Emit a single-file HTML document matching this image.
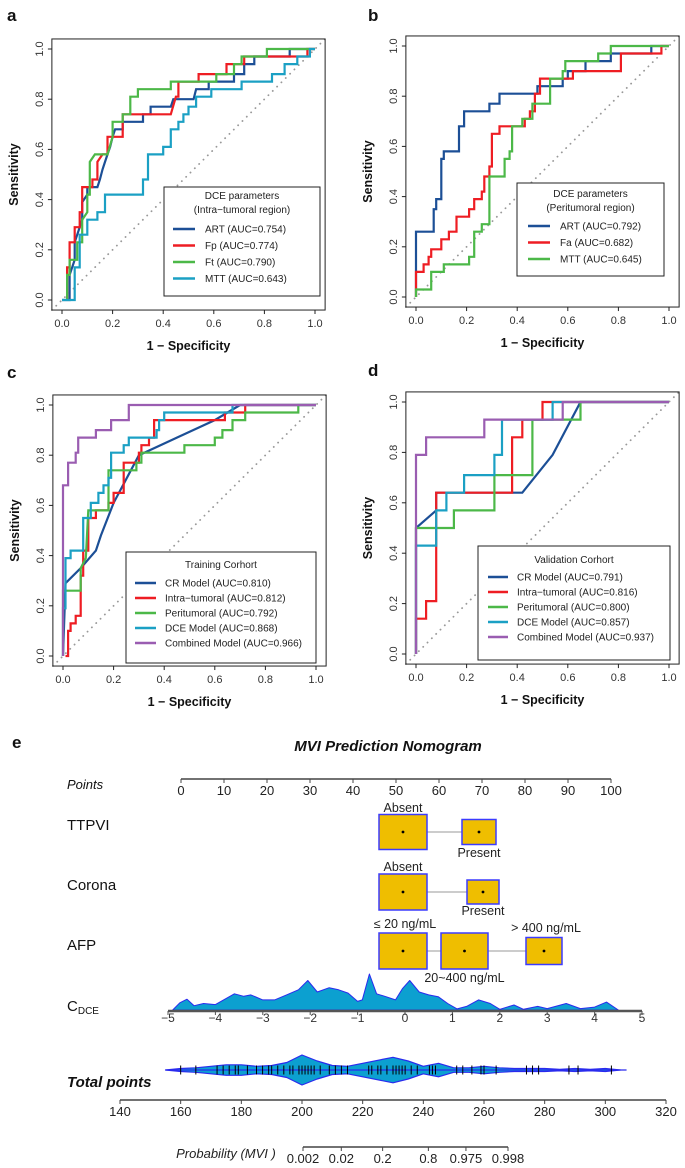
<!DOCTYPE html>
<html><head><meta charset="utf-8"><style>
html,body{margin:0;padding:0;background:#fff;overflow:hidden;}
svg{display:block;font-family:"Liberation Sans",sans-serif;}
.nm{font-family:"Liberation Sans Narrow","Liberation Sans",sans-serif;}
</style></head><body>
<svg id="fig" width="685" height="1168" viewBox="0 0 685 1168" xmlns="http://www.w3.org/2000/svg"></svg>
<script>
// ---------- ROC data ----------
const aART=[[0,0],[0.03,0],[0.03,0.1],[0.05,0.16],[0.05,0.23],[0.08,0.32],[0.08,0.39],[0.1,0.42],[0.1,0.45],[0.14,0.45],[0.15,0.48],[0.16,0.52],[0.17,0.55],[0.18,0.58],[0.19,0.61],[0.2,0.65],[0.21,0.68],[0.24,0.68],[0.24,0.71],[0.32,0.71],[0.32,0.74],[0.35,0.74],[0.35,0.77],[0.43,0.77],[0.44,0.8],[0.52,0.8],[0.53,0.84],[0.58,0.84],[0.58,0.87],[0.68,0.87],[0.68,0.9],[0.72,0.9],[0.72,0.94],[0.76,0.94],[0.76,0.97],[0.9,0.97],[0.9,1],[1,1]];
const aFp=[[0.02,0],[0.02,0.13],[0.03,0.13],[0.03,0.23],[0.05,0.23],[0.05,0.29],[0.07,0.29],[0.07,0.35],[0.08,0.35],[0.08,0.45],[0.12,0.45],[0.12,0.48],[0.14,0.48],[0.14,0.55],[0.16,0.58],[0.18,0.58],[0.18,0.65],[0.24,0.65],[0.24,0.74],[0.43,0.74],[0.45,0.81],[0.46,0.81],[0.46,0.87],[0.54,0.87],[0.54,0.9],[0.65,0.9],[0.65,0.94],[0.72,0.94],[0.72,0.97],[0.97,0.97],[0.97,1],[1,1]];
const aFt=[[0.02,0],[0.02,0.1],[0.03,0.1],[0.03,0.16],[0.06,0.16],[0.06,0.23],[0.08,0.23],[0.08,0.32],[0.1,0.35],[0.1,0.42],[0.11,0.42],[0.11,0.55],[0.13,0.58],[0.18,0.58],[0.2,0.65],[0.2,0.71],[0.24,0.71],[0.24,0.74],[0.27,0.74],[0.27,0.81],[0.3,0.81],[0.3,0.84],[0.43,0.84],[0.43,0.87],[0.61,0.87],[0.61,0.9],[0.68,0.9],[0.68,0.94],[0.71,0.94],[0.71,0.97],[0.81,0.97],[0.81,1],[1,1]];
const aMTT=[[0,0],[0.05,0],[0.05,0.13],[0.07,0.13],[0.07,0.26],[0.1,0.26],[0.1,0.32],[0.14,0.32],[0.14,0.35],[0.17,0.35],[0.17,0.42],[0.32,0.42],[0.32,0.48],[0.34,0.48],[0.34,0.58],[0.4,0.58],[0.4,0.61],[0.43,0.61],[0.43,0.68],[0.46,0.68],[0.46,0.71],[0.48,0.71],[0.48,0.74],[0.5,0.74],[0.5,0.77],[0.53,0.77],[0.53,0.81],[0.59,0.81],[0.59,0.84],[0.71,0.84],[0.71,0.87],[0.83,0.87],[0.83,0.9],[0.88,0.9],[0.88,0.94],[0.93,0.94],[0.93,0.97],[0.98,0.97],[0.98,1],[1,1]];
const bART=[[0,0],[0,0.26],[0.07,0.26],[0.07,0.35],[0.08,0.35],[0.08,0.39],[0.1,0.39],[0.1,0.55],[0.11,0.55],[0.11,0.58],[0.17,0.58],[0.17,0.68],[0.19,0.68],[0.19,0.74],[0.29,0.74],[0.29,0.77],[0.33,0.77],[0.33,0.81],[0.48,0.81],[0.48,0.84],[0.58,0.84],[0.58,0.87],[0.6,0.87],[0.6,0.9],[0.67,0.9],[0.67,0.94],[0.77,0.94],[0.77,0.97],[0.93,0.97],[0.93,1],[1,1]];
const bFa=[[0,0],[0,0.1],[0.03,0.1],[0.03,0.13],[0.05,0.13],[0.05,0.16],[0.06,0.16],[0.06,0.19],[0.1,0.19],[0.1,0.23],[0.13,0.23],[0.13,0.26],[0.16,0.26],[0.16,0.32],[0.21,0.32],[0.21,0.35],[0.23,0.35],[0.23,0.39],[0.26,0.39],[0.26,0.42],[0.27,0.42],[0.27,0.48],[0.29,0.48],[0.29,0.52],[0.3,0.52],[0.3,0.65],[0.33,0.65],[0.33,0.68],[0.43,0.68],[0.43,0.71],[0.45,0.71],[0.45,0.74],[0.47,0.74],[0.47,0.81],[0.49,0.81],[0.49,0.87],[0.62,0.87],[0.62,0.9],[0.81,0.9],[0.81,0.97],[0.97,0.97],[0.97,1],[1,1]];
const bMTT=[[0,0],[0,0.03],[0.06,0.03],[0.06,0.1],[0.11,0.1],[0.11,0.13],[0.21,0.13],[0.21,0.16],[0.23,0.16],[0.23,0.26],[0.26,0.26],[0.26,0.29],[0.29,0.29],[0.29,0.48],[0.35,0.48],[0.35,0.55],[0.37,0.55],[0.37,0.58],[0.38,0.58],[0.38,0.68],[0.42,0.68],[0.42,0.71],[0.46,0.71],[0.46,0.77],[0.53,0.77],[0.53,0.87],[0.58,0.87],[0.58,0.9],[0.59,0.9],[0.59,0.94],[0.72,0.94],[0.72,0.97],[0.77,0.97],[0.77,1],[1,1]];
const cCR=[[0,0],[0.01,0.29],[0.07,0.35],[0.13,0.42],[0.15,0.48],[0.2,0.61],[0.3,0.8],[0.45,0.87],[0.6,0.94],[0.7,1],[1,1]];
const cIntra=[[0.01,0],[0.02,0],[0.02,0.1],[0.03,0.1],[0.03,0.13],[0.05,0.13],[0.05,0.16],[0.07,0.16],[0.07,0.32],[0.08,0.32],[0.08,0.42],[0.1,0.42],[0.1,0.55],[0.13,0.55],[0.13,0.58],[0.18,0.58],[0.18,0.61],[0.2,0.61],[0.2,0.65],[0.24,0.65],[0.24,0.77],[0.3,0.77],[0.3,0.81],[0.31,0.81],[0.31,0.84],[0.34,0.84],[0.34,0.87],[0.36,0.87],[0.36,0.94],[0.64,0.94],[0.64,0.97],[0.72,0.97],[0.72,1],[1,1]];
const cPeri=[[0,0],[0,0.26],[0.07,0.26],[0.07,0.35],[0.09,0.39],[0.1,0.58],[0.18,0.58],[0.18,0.74],[0.29,0.74],[0.29,0.77],[0.31,0.77],[0.31,0.81],[0.48,0.81],[0.48,0.84],[0.6,0.84],[0.6,0.87],[0.63,0.87],[0.63,0.9],[0.67,0.9],[0.67,0.94],[0.72,0.94],[0.72,0.97],[0.93,0.97],[0.93,1],[1,1]];
const cDCE=[[0,0],[0,0.19],[0.01,0.19],[0.01,0.39],[0.03,0.39],[0.03,0.42],[0.08,0.42],[0.08,0.55],[0.11,0.55],[0.11,0.61],[0.14,0.61],[0.14,0.65],[0.16,0.65],[0.16,0.68],[0.18,0.68],[0.18,0.71],[0.19,0.71],[0.19,0.81],[0.24,0.81],[0.24,0.84],[0.26,0.84],[0.26,0.87],[0.37,0.87],[0.37,0.9],[0.38,0.9],[0.38,0.94],[0.4,0.94],[0.4,0.97],[0.67,0.97],[0.67,1],[1,1]];
const cComb=[[0,0],[0,0.68],[0.02,0.68],[0.02,0.77],[0.05,0.77],[0.05,0.81],[0.06,0.81],[0.06,0.87],[0.13,0.87],[0.13,0.9],[0.19,0.9],[0.19,0.94],[0.26,0.94],[0.26,1],[1,1]];
const dCR=[[0,0],[0,0.5],[0.08,0.57],[0.08,0.64],[0.42,0.64],[0.54,0.79],[0.65,1],[1,1]];
const dIntra=[[0,0],[0,0.14],[0.04,0.14],[0.04,0.21],[0.08,0.21],[0.08,0.64],[0.38,0.64],[0.38,0.86],[0.42,0.86],[0.42,0.93],[0.5,0.93],[0.5,1],[1,1]];
const dPeri=[[0,0],[0,0.5],[0.15,0.5],[0.15,0.57],[0.31,0.57],[0.31,0.71],[0.46,0.71],[0.46,0.93],[0.65,0.93],[0.65,1],[1,1]];
const dDCE=[[0,0],[0,0.43],[0.08,0.43],[0.08,0.57],[0.12,0.57],[0.12,0.64],[0.19,0.64],[0.19,0.71],[0.31,0.71],[0.31,0.79],[0.34,0.79],[0.34,0.93],[0.54,0.93],[0.54,1],[1,1]];
const dComb=[[0,0],[0,0.79],[0.04,0.79],[0.04,0.86],[0.27,0.86],[0.27,0.93],[0.58,0.93],[0.58,1],[1,1]];
const rocTicks=[0,0.2,0.4,0.6,0.8,1];
const rocTickLabels=["0.0","0.2","0.4","0.6","0.8","1.0"];
// ---------- nomogram data ----------
const pointTicks=[0,10,20,30,40,50,60,70,80,90,100];
const cdceTicks=[-5,-4,-3,-2,-1,0,1,2,3,4,5];
const cdceX=[-4.9,-4.75,-4.6,-4.45,-4.25,-4.0,-3.8,-3.6,-3.4,-3.25,-3.0,-2.75,-2.5,-2.25,-2.05,-1.85,-1.6,-1.4,-1.2,-1.0,-0.9,-0.75,-0.6,-0.4,-0.2,-0.05,0.1,0.3,0.5,0.7,0.9,1.1,1.3,1.55,1.8,2.0,2.3,2.5,2.8,3.0,3.4,3.7,4.0,4.25,4.5];
const cdceDens=[0,0.2,0.3,0.12,0.18,0.15,0.3,0.45,0.38,0.42,0.28,0.28,0.42,0.56,0.82,0.5,0.62,0.56,0.47,0.24,0.28,1.0,0.45,0.37,0.28,0.6,0.82,0.5,0.42,0.37,0.18,0.03,0.1,0.28,0.18,0.02,0.14,0.02,0.1,0.04,0.18,0.04,0.08,0.22,0];
const totalTicks=[140,160,180,200,220,240,260,280,300,320];
const violinX=[155,160,165,170,175,180,185,190,195,200,205,210,215,220,225,230,235,240,245,250,255,260,265,270,275,280,285,290,295,300,305];
const violinHW=[0,2,3,5,7,7,5,6,10,20,12,6,5,9,13,17,12,5,9,3,3,5,3,2,2,2,1,2,1,2,0];
const rugValues=[160,165,172,174,176,178,179,182,185,187,189,190,192,194,196,197,199,200,201,202,203,204,206,209,211,213,215,222,223,225,226,228,230,231,232,233,234,236,238,242,243,244,251,253,256,259,260,264,274,276,278,288,291,302];
const probTicks=[0.002,0.02,0.2,0.8,0.975,0.998];
const probLabels=["0.002","0.02","0.2","0.8","0.975","0.998"];

const NS="http://www.w3.org/2000/svg";
const svg=document.getElementById('fig');
function mk(tag,attrs,parent){const e=document.createElementNS(NS,tag);for(const k in attrs)e.setAttribute(k,attrs[k]);(parent||svg).appendChild(e);return e;}
function txt(s,x,y,attrs,parent){const e=mk('text',Object.assign({x:x,y:y},attrs),parent);e.textContent=s;return e;}

const COL={blue:'#1c4f96',red:'#ee1d23',green:'#4cb848',cyan:'#1ba0c4',purple:'#9a5db1'};

function rocPanel(id,letter,lx,ly,x0,x1,y1,y0,series,legend){
  const g=mk('g',{});
  
  
  const sx=v=>x0+(x1-x0)*v, sy=v=>y0-(y0-y1)*v;
  const padX=(x1-x0)*0.04,padY=(y0-y1)*0.04;
  const L=x0-padX,R=x1+padX,T=y1-padY,B=y0+padY;
  const lab=txt(letter,lx,ly,{'font-size':17,'font-weight':'bold',fill:'#111'},g);
  
  
  const dg=mk('line',{x1:sx(-0.04),y1:sy(-0.04),x2:sx(1.04),y2:sy(1.04),stroke:'#999','stroke-width':1.8,'stroke-dasharray':'0.1 6','stroke-linecap':'round'},g);
  
  
  series.forEach(s=>{
    const p=mk('polyline',{points:s.data.map(d=>sx(d[0]).toFixed(1)+','+sy(d[1]).toFixed(1)).join(' '),fill:'none',stroke:s.color,'stroke-width':2.2,'stroke-linejoin':'miter'},g);
    
    
  });
  const box=mk('rect',{x:L,y:T,width:R-L,height:B-T,fill:'none',stroke:'#222','stroke-width':1},g);
  
  
  rocTicks.forEach((t,i)=>{
    mk('line',{x1:sx(t),y1:B,x2:sx(t),y2:B+4,stroke:'#222'},g);
    const xl=txt(rocTickLabels[i],sx(t),B+17,{'font-size':11,'text-anchor':'middle',fill:'#333'},g);
    
    
    mk('line',{x1:L,y1:sy(t),x2:L-4,y2:sy(t),stroke:'#222'},g);
    const yl=txt(rocTickLabels[i],0,0,{'font-size':11,'text-anchor':'middle',fill:'#333',transform:`translate(${L-9},${sy(t)}) rotate(-90)`},g);
    
    
  });
  const xt=txt('1 − Specificity',(L+R)/2,B+40,{'font-size':12.5,'font-weight':'bold','text-anchor':'middle',fill:'#111'},g);
  
  
  const yt=txt('Sensitivity',0,0,{'font-size':12.5,'font-weight':'bold','text-anchor':'middle',fill:'#111',transform:`translate(${L-34},${(T+B)/2}) rotate(-90)`},g);
  
  
  const lg=mk('g',{},g);
  
  
  mk('rect',{x:legend.x,y:legend.y,width:legend.w,height:legend.h,fill:'#fff',stroke:'#222','stroke-width':1},lg);
  legend.title.forEach((t,i)=>{
    const tt=txt(t,legend.x+legend.w/2,legend.ty+i*14,{'font-size':10,'text-anchor':'middle',fill:'#222'},lg);
    
    
  });
  series.forEach((s,i)=>{
    const y=legend.ey+i*legend.dy;
    const ln=mk('line',{x1:legend.lx1,x2:legend.lx2,y1:y,y2:y,stroke:s.color,'stroke-width':2.5},lg);
    
    
    const tx=txt(s.label,legend.tx,y+3.5,{'font-size':10,fill:'#222'},lg);
    
    
  });
}

rocPanel('a','a',7,21,62,315,49,300,[
 {name:'art',data:aART,color:COL.blue,label:'ART (AUC=0.754)'},
 {name:'fp',data:aFp,color:COL.red,label:'Fp (AUC=0.774)'},
 {name:'ft',data:aFt,color:COL.green,label:'Ft (AUC=0.790)'},
 {name:'mtt',data:aMTT,color:COL.cyan,label:'MTT (AUC=0.643)'}],
 {x:164,y:187,w:156,h:109,title:['DCE parameters','(Intra−tumoral region)'],ty:199,ey:229,dy:16.5,lx1:173,lx2:195,tx:205});
rocPanel('b','b',368,21,416,669,46,297,[
 {name:'art',data:bART,color:COL.blue,label:'ART (AUC=0.792)'},
 {name:'fa',data:bFa,color:COL.red,label:'Fa (AUC=0.682)'},
 {name:'mtt',data:bMTT,color:COL.green,label:'MTT (AUC=0.645)'}],
 {x:517,y:183,w:147,h:93,title:['DCE parameters','(Peritumoral region)'],ty:197,ey:226,dy:16.5,lx1:528,lx2:550,tx:560});
rocPanel('c','c',7,378,63,316,405,656,[
 {name:'cr',data:cCR,color:COL.blue,label:'CR Model (AUC=0.810)'},
 {name:'intra',data:cIntra,color:COL.red,label:'Intra−tumoral (AUC=0.812)'},
 {name:'peri',data:cPeri,color:COL.green,label:'Peritumoral (AUC=0.792)'},
 {name:'dce',data:cDCE,color:COL.cyan,label:'DCE Model (AUC=0.868)'},
 {name:'combined',data:cComb,color:COL.purple,label:'Combined Model (AUC=0.966)'}],
 {x:126,y:552,w:190,h:111,title:['Training Corhort'],ty:568,ey:583,dy:15,lx1:135,lx2:156,tx:165});
rocPanel('d','d',368,376,416,669,402,654,[
 {name:'cr',data:dCR,color:COL.blue,label:'CR Model (AUC=0.791)'},
 {name:'intra',data:dIntra,color:COL.red,label:'Intra−tumoral (AUC=0.816)'},
 {name:'peri',data:dPeri,color:COL.green,label:'Peritumoral (AUC=0.800)'},
 {name:'dce',data:dDCE,color:COL.cyan,label:'DCE Model (AUC=0.857)'},
 {name:'combined',data:dComb,color:COL.purple,label:'Combined Model (AUC=0.937)'}],
 {x:478,y:546,w:192,h:114,title:['Validation Corhort'],ty:563,ey:577,dy:15,lx1:488,lx2:508,tx:517});

// ---------- nomogram ----------
const ng=mk('g',{class:'nm'});


const eL=txt('e',12,748,{'font-size':17,'font-weight':'bold',fill:'#111',style:'font-family:"Liberation Sans",sans-serif'},ng);


const nt=txt('MVI Prediction Nomogram',388,751,{'font-size':15,'font-weight':'bold','font-style':'italic','text-anchor':'middle',fill:'#111'},ng);



const px=v=>181+(611-181)*v/100;
mk('line',{x1:px(0),x2:px(100),y1:779,y2:779,stroke:'#444','stroke-width':1.5},ng);
pointTicks.forEach(t=>{
  mk('line',{x1:px(t),x2:px(t),y1:779,y2:783,stroke:'#444'},ng);
  const l=txt(String(t),px(t),795,{'font-size':13,'text-anchor':'middle',fill:'#222'},ng);
  
  
});
function rowLabel(s,y,italic,bold,name){
  const l=txt(s,67,y,{'font-size':italic&&!bold?13:15,'font-style':italic?'italic':'normal','font-weight':bold?'bold':'normal',fill:'#111'},ng);
  
  
  return l;
}
rowLabel('Points',789,true,false,'points-row-label');
rowLabel('TTPVI',830,false,false,'ttpvi-row-label');
rowLabel('Corona',890,false,false,'corona-row-label');
rowLabel('AFP',950,false,false,'afp-row-label');
const cd=rowLabel('C',1011,false,false,'cdce-row-label');
const sub=mk('tspan',{'font-size':10,dy:3},cd);sub.textContent='DCE';
rowLabel('Total points',1087,true,true,'total-points-row-label');

function boxRow(name,cy,lineFrom,lineTo,boxes){
  mk('line',{x1:lineFrom,x2:lineTo,y1:cy,y2:cy,stroke:'#bbb','stroke-width':1.5},ng);
  boxes.forEach(b=>{
    const r=mk('rect',{x:b.cx-b.w/2,y:cy-b.h/2,width:b.w,height:b.h,fill:'#efbe00',stroke:'#3b3bff','stroke-width':1.5},ng);
    
    
    mk('circle',{cx:b.cx,cy:cy,r:1.4,fill:'#000'},ng);
    const t=txt(b.label,b.lx!==undefined?b.lx:b.cx,b.ly,{'font-size':12.5,'text-anchor':'middle',fill:'#222'},ng);
    
    
  });
}
boxRow('ttpvi',832,403,479,[{key:'absent',cx:403,w:48,h:35,label:'Absent',ly:812},{key:'present',cx:479,w:34,h:25,label:'Present',ly:857}]);
boxRow('corona',892,403,483,[{key:'absent',cx:403,w:48,h:36,label:'Absent',ly:871},{key:'present',cx:483,w:32,h:24,label:'Present',ly:915}]);
boxRow('afp',951,403,544,[{key:'low',cx:403,w:48,h:36,label:'≤ 20 ng/mL',lx:405,ly:928},{key:'mid',cx:464.5,w:47,h:36,label:'20~400 ng/mL',ly:982},{key:'high',cx:544,w:36,h:27,label:'> 400 ng/mL',lx:546,ly:932}]);

// CDCE density
const cx=v=>168+(642-168)*(v+5)/10;
const cBase=1010, cH=36;
let d='M'+cx(cdceX[0])+','+cBase;
cdceX.forEach((v,i)=>{d+=' L'+cx(v).toFixed(1)+','+(cBase-cdceDens[i]*cH).toFixed(1);});
d+=' L'+cx(cdceX[cdceX.length-1])+','+cBase+' Z';
const dp=mk('path',{d:d,fill:'#0ca0d0',stroke:'#2a2aee','stroke-width':1,'stroke-linejoin':'round'},ng);


mk('line',{x1:cx(-5),x2:cx(5),y1:1011,y2:1011,stroke:'#555','stroke-width':2.5},ng);
cdceTicks.forEach(t=>{
  mk('line',{x1:cx(t),x2:cx(t),y1:1011,y2:1015,stroke:'#555'},ng);
  const l=txt(t<0?'−'+Math.abs(t):String(t),cx(t),1022,{'font-size':12,'text-anchor':'middle',fill:'#333'},ng);
  
  
});

// total points
const tx=v=>120+(666-120)*(v-140)/180;
const vc=1070, vScale=0.75;
let vd='M'+tx(violinX[0])+','+vc;
violinX.forEach((v,i)=>{vd+=' L'+tx(v).toFixed(1)+','+(vc-violinHW[i]*vScale).toFixed(1);});
for(let i=violinX.length-1;i>=0;i--){vd+=' L'+tx(violinX[i]).toFixed(1)+','+(vc+violinHW[i]*vScale).toFixed(1);}
vd+=' Z';
const vp=mk('path',{d:vd,fill:'#0ca0d0',stroke:'#2a2aee','stroke-width':1.2,'stroke-linejoin':'round'},ng);


mk('line',{x1:tx(155),x2:tx(307),y1:vc,y2:vc,stroke:'#2a2aee','stroke-width':1.2},ng);
rugValues.forEach(v=>{
  const r=mk('line',{x1:tx(v),x2:tx(v),y1:vc-4.5,y2:vc+4.5,stroke:'#000','stroke-width':1},ng);
  
  
});
mk('line',{x1:tx(140),x2:tx(320),y1:1100,y2:1100,stroke:'#444','stroke-width':1.5},ng);
totalTicks.forEach(t=>{
  mk('line',{x1:tx(t),x2:tx(t),y1:1100,y2:1104,stroke:'#444'},ng);
  const l=txt(String(t),tx(t),1116,{'font-size':13,'text-anchor':'middle',fill:'#222'},ng);
  
  
});

// probability
const logit=p=>Math.log(p/(1-p));
const pxp=p=>303+(508-303)*(logit(p)-logit(0.002))/(logit(0.998)-logit(0.002));
mk('line',{x1:pxp(0.002),x2:pxp(0.998),y1:1147,y2:1147,stroke:'#444','stroke-width':1.5},ng);
probTicks.forEach((p,i)=>{
  mk('line',{x1:pxp(p),x2:pxp(p),y1:1147,y2:1151,stroke:'#444'},ng);
  const l=txt(probLabels[i],pxp(p),1163,{'font-size':13,'text-anchor':'middle',fill:'#222'},ng);
  
  
});
const pl=txt('Probability (MVI )',226,1158,{'font-size':13,'font-style':'italic','text-anchor':'middle',fill:'#222'},ng);


</script>
</body></html>
